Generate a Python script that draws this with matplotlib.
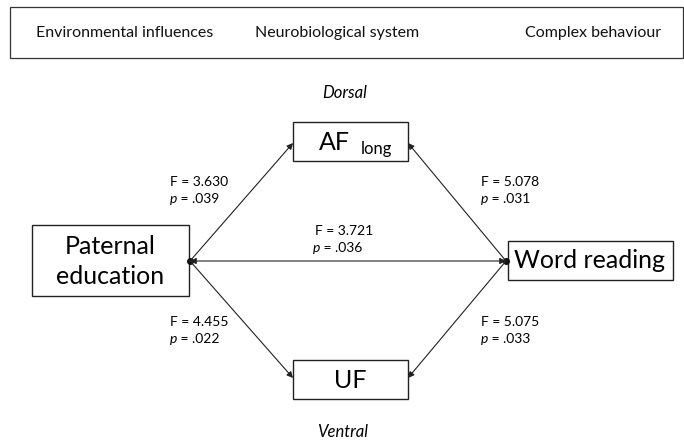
import matplotlib.pyplot as plt
from matplotlib.patches import Rectangle

plt.rcParams['font.family'] = ['Lato', 'DejaVu Sans']

# header row
header_labels = ['Environmental influences', 'Neurobiological system', 'Complex behaviour']

# nodes and path statistics
node_names = ['Paternal', 'education', 'AF', 'UF', 'Word reading']
path_names = ['PE-AF', 'AF-WR', 'PE-WR', 'PE-UF', 'UF-WR']
f_values = ['3.630', '5.078', '3.721', '4.455', '5.075']
p_values = ['.039', '.031', '.036', '.022', '.033']

fig = plt.figure(figsize=(6.84, 4.4), dpi=100)
ax = fig.add_axes([0, 0, 1, 1])
ax.set_xlim(0, 684)
ax.set_ylim(440, 0)
ax.axis('off')

# header box
ax.add_patch(Rectangle((10, 7), 673, 51, fill=False, lw=0.9, ec='#333333'))
for x, lab in zip([125, 337, 593], header_labels):
    ax.text(x, 33, lab, ha='center', va='center', fontsize=11.5, color='#111111')

# boxes: (x, y, w, h)
boxes = {
    'PE': (32, 225, 157, 71),
    'AF': (293, 122, 115, 39),
    'UF': (293, 360, 115, 39),
    'WR': (508, 241, 165, 39),
}
for key, (x, y, w, h) in boxes.items():
    ax.add_patch(Rectangle((x, y), w, h, fill=False, lw=1.0, ec='#222222'))

ax.text(110, 246, node_names[0], ha='center', va='center', fontsize=18)
ax.text(110, 276, node_names[1], ha='center', va='center', fontsize=18)
ax.text(334, 143, node_names[2], ha='center', va='center', fontsize=18)
ax.text(361, 149, 'long', ha='left', va='center', fontsize=12)
ax.text(350, 380, node_names[3], ha='center', va='center', fontsize=18)
ax.text(590, 261, node_names[4], ha='center', va='center', fontsize=18)

ax.text(345, 93, 'Dorsal', ha='center', va='center', fontsize=12, style='italic')
ax.text(343, 432, 'Ventral', ha='center', va='center', fontsize=12, style='italic')

# arrows
pe_pt = (190, 261)
wr_pt = (506, 261)
aprops = dict(arrowstyle='-|>', lw=0.8, color='#222222', mutation_scale=9, shrinkA=0, shrinkB=0)
ax.annotate('', xy=(293, 143), xytext=pe_pt, arrowprops=aprops)
ax.annotate('', xy=(408, 143), xytext=wr_pt, arrowprops=aprops)
ax.annotate('', xy=(293, 378), xytext=pe_pt, arrowprops=aprops)
ax.annotate('', xy=(408, 378), xytext=wr_pt, arrowprops=aprops)
ax.annotate('', xy=wr_pt, xytext=pe_pt,
            arrowprops=dict(arrowstyle='<|-|>', lw=0.8, color='#222222', mutation_scale=9,
                            shrinkA=0, shrinkB=0))
ax.plot([pe_pt[0], wr_pt[0]], [pe_pt[1], wr_pt[1]], 'o', ms=4, color='#111111')

# stats labels
label_pos = [(170, 182), (481, 182), (313, 231), (170, 322), (481, 322)]
for (x, y), f, p in zip(label_pos, f_values, p_values):
    if x == 313:
        ax.text(344, y, 'F = ' + f, ha='center', va='center', fontsize=10)
    else:
        ax.text(x, y, 'F = ' + f, ha='left', va='center', fontsize=10)
    ax.text(x, y + 17, 'p', ha='left', va='center', fontsize=10, style='italic')
    ax.text(x + 7, y + 17, ' = ' + p, ha='left', va='center', fontsize=10)

fig.savefig('out.png', dpi=100)
